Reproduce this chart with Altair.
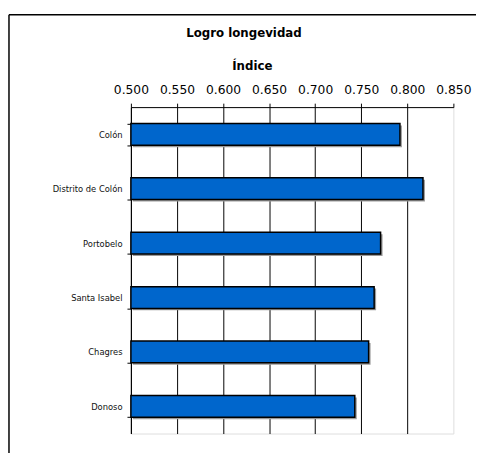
import altair as alt
import pandas as pd

categories = ["Colón", "Distrito de Colón", "Portobelo", "Santa Isabel", "Chagres", "Donoso"]
values = [0.792, 0.817, 0.771, 0.764, 0.758, 0.743]
tick_values = [0.500, 0.550, 0.600, 0.650, 0.700, 0.750, 0.800, 0.850]
chart_title = "Logro longevidad"

df = pd.DataFrame({"cat": categories, "val": values})

W, H = 328, 332

xscale = alt.Scale(domain=[0.5, 0.85], nice=False, zero=False)
yscale = alt.Scale(paddingInner=0.6, paddingOuter=0.3)

x_enc = alt.X(
    "val:Q",
    scale=xscale,
    axis=alt.Axis(
        orient="top",
        values=tick_values,
        format=".3f",
        title="Índice",
        titleFont="DejaVu Sans",
        titleFontSize=12,
        titleFontWeight="bold",
        titleColor="#000000",
        titleX=123,
        titleY=-42,
        titleAlign="center",
        titleBaseline="middle",
        labelFont="DejaVu Sans",
        labelFontSize=12.5,
        labelColor="#000000",
        labelBaseline="alphabetic",
        labelPadding=10,
        labelFlush=False,
        labelOverlap=False,
        domainColor="#000000",
        domainWidth=1,
        tickColor="#000000",
        tickSize=4,
        grid=True,
        gridColor={"condition": {"test": "datum.value >= 0.849", "value": "transparent"}, "value": "#000000"},
        gridOpacity=1,
        gridWidth=1,
    ),
)
y_enc = alt.Y(
    "cat:N",
    sort=categories,
    scale=yscale,
    axis=alt.Axis(
        title=None,
        labelFont="DejaVu Sans",
        labelFontSize=8.5,
        labelColor="#111111",
        labelPadding=5,
        domainColor="#000000",
        tickColor="#000000",
        tickSize=4,
        tickWidth=1,
        tickBand="extent",
        grid=False,
    ),
)

base = alt.Chart(df)

shadow = base.mark_bar(color="#9a9a9a", xOffset=2, yOffset=2, x2Offset=2).encode(
    x=x_enc, x2=alt.datum(0.5), y=y_enc
)

bars = base.mark_bar(color="#0066CC", stroke="#000000", strokeWidth=1.5).encode(
    x=x_enc, x2=alt.datum(0.5), y=y_enc
)

frame = alt.Chart(alt.Data(values=[{"t": chart_title}]))
left_line = frame.mark_rule(color="#000000", strokeWidth=1.5).encode(
    x=alt.value(-124), y=alt.value(-94), y2=alt.value(400)
)
top_line = frame.mark_rule(color="#000000", strokeWidth=1.5).encode(
    x=alt.value(-124), x2=alt.value(400), y=alt.value(-94)
)
title_text = frame.mark_text(
    font="DejaVu Sans", fontSize=12, fontWeight="bold", color="#000000",
    align="center", baseline="middle"
).encode(text="t:N", x=alt.value(115), y=alt.value(-75))

chart = alt.layer(shadow, bars, left_line, top_line, title_text).properties(
    width=W,
    height=H,
    autosize=alt.AutoSizeParams(type="none"),
    padding={"left": 125, "top": 97, "right": 23, "bottom": 16},
).configure_view(
    stroke="#9a9a9a", strokeWidth=2
).configure(background="white")

chart.save("out.html", embed_options={"renderer": "svg", "actions": False})
